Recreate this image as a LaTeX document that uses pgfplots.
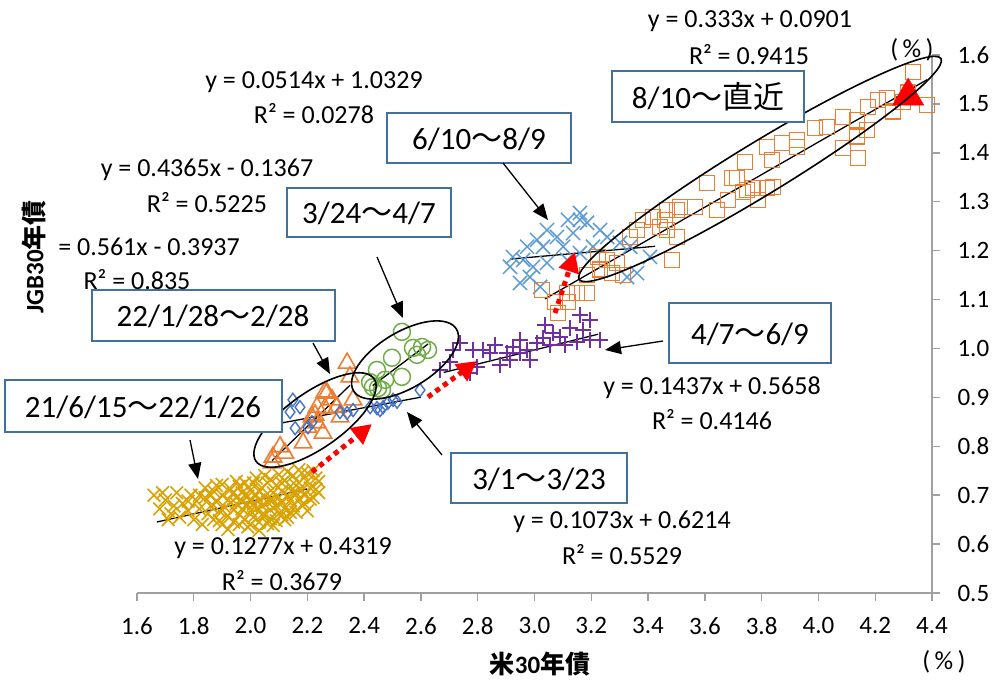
\documentclass[border=0pt]{standalone}
\usepackage{pgfplots}
\pgfplotsset{compat=1.18}
\usepackage{fontspec}
\setmainfont{Carlito}
\newfontfamily\cjk{Noto Sans CJK JP}
\usetikzlibrary{arrows.meta}

\definecolor{cgold}{RGB}{218,162,0}
\definecolor{corange}{RGB}{237,125,49}
\definecolor{cblue}{RGB}{68,114,196}
\definecolor{cgreen}{RGB}{112,173,71}
\definecolor{cpurple}{RGB}{112,48,160}
\definecolor{clblue}{RGB}{91,155,213}
\definecolor{cbox}{RGB}{65,113,156}
\definecolor{caxis}{RGB}{160,160,160}

\newcommand{\wave}{{\cjk ～}}

% 21/6/15 - 22/1/26
\pgfplotstableread{
x y
1.66 0.700
1.68 0.672
1.69 0.705
1.70 0.690
1.71 0.650
1.72 0.662
1.73 0.678
1.74 0.705
1.75 0.655
1.76 0.683
1.78 0.668
1.78 0.688
1.79 0.700
1.80 0.650
1.81 0.688
1.82 0.672
1.82 0.700
1.83 0.640
1.84 0.695
1.84 0.715
1.85 0.662
1.86 0.678
1.86 0.700
1.87 0.708
1.87 0.650
1.88 0.686
1.88 0.720
1.89 0.668
1.89 0.648
1.90 0.700
1.90 0.640
1.90 0.722
1.91 0.675
1.92 0.690
1.92 0.658
1.92 0.630
1.93 0.712
1.93 0.685
1.94 0.670
1.94 0.645
1.94 0.705
1.95 0.695
1.95 0.682
1.95 0.728
1.96 0.660
1.96 0.718
1.96 0.640
1.97 0.688
1.97 0.672
1.97 0.705
1.98 0.650
1.98 0.700
1.98 0.725
1.99 0.680
1.99 0.635
1.99 0.698
2.00 0.692
2.00 0.668
2.00 0.710
2.00 0.640
2.01 0.655
2.01 0.682
2.01 0.725
2.02 0.700
2.02 0.672
2.02 0.735
2.03 0.690
2.03 0.645
2.03 0.628
2.03 0.708
2.04 0.715
2.04 0.678
2.04 0.660
2.05 0.660
2.05 0.698
2.05 0.740
2.06 0.686
2.06 0.725
2.06 0.642
2.07 0.670
2.07 0.652
2.07 0.732
2.07 0.690
2.08 0.705
2.08 0.690
2.08 0.638
2.09 0.678
2.09 0.720
2.09 0.648
2.10 0.662
2.10 0.695
2.10 0.742
2.11 0.708
2.11 0.684
2.11 0.660
2.11 0.725
2.12 0.730
2.12 0.672
2.12 0.650
2.13 0.700
2.13 0.655
2.13 0.748
2.14 0.718
2.14 0.690
2.14 0.665
2.15 0.740
2.15 0.678
2.15 0.705
2.16 0.705
2.16 0.665
2.16 0.720
2.17 0.725
2.17 0.692
2.17 0.752
2.18 0.710
2.18 0.745
2.18 0.680
2.19 0.682
2.19 0.700
2.20 0.728
2.20 0.668
2.20 0.745
2.21 0.715
2.21 0.692
2.22 0.695
2.22 0.750
2.23 0.735
2.23 0.712
2.24 0.705
2.24 0.728
}\tabA

% 22/1/28 - 2/28
\pgfplotstableread{
x y
2.340 0.970
2.350 0.942
2.269 0.909
2.287 0.895
2.234 0.880
2.262 0.878
2.304 0.880
2.216 0.860
2.234 0.848
2.255 0.827
2.202 0.839
2.185 0.807
2.104 0.799
2.121 0.786
2.079 0.778
2.076 0.766
2.227 0.864
2.315 0.860
2.262 0.911
2.361 0.895
}\tabB

% 3/1 - 3/23
\pgfplotstableread{
x y
2.149 0.895
2.174 0.880
2.139 0.870
2.157 0.837
2.202 0.839
2.216 0.849
2.315 0.870
2.340 0.868
2.361 0.874
2.421 0.880
2.445 0.878
2.456 0.874
2.467 0.880
2.484 0.889
2.502 0.895
2.516 0.891
2.597 0.915
}\tabC

% 3/24 - 4/7
\pgfplotstableread{
x y
2.533 1.034
2.498 0.981
2.445 0.956
2.474 0.936
2.449 0.919
2.421 0.931
2.533 0.942
2.572 1.001
2.625 0.997
2.586 0.987
2.604 1.003
2.431 0.921
2.463 0.915
}\tabD

% 4/7 - 6/9
\pgfplotstableread{
x y
3.160 1.069
3.196 1.058
3.125 1.042
3.171 1.038
3.065 1.032
3.090 1.023
3.030 1.021
3.009 1.011
2.974 0.997
2.924 1.003
2.949 0.991
2.903 0.991
2.843 0.991
2.819 0.997
2.984 0.976
2.914 0.976
3.196 1.017
3.231 1.017
3.150 1.013
2.713 0.997
2.702 0.972
2.784 0.997
2.798 0.962
2.773 0.950
2.738 1.011
2.861 1.007
2.879 0.966
3.055 1.007
3.108 1.007
2.667 0.956
2.949 1.017
3.037 1.048
}\tabE

% 6/10 - 8/9
\pgfplotstableread{
x y
3.160 1.277
3.118 1.263
3.185 1.257
3.044 1.242
3.079 1.228
3.136 1.236
3.009 1.222
2.974 1.208
3.030 1.208
3.101 1.208
2.924 1.187
2.960 1.181
2.995 1.167
3.044 1.175
2.984 1.146
2.949 1.134
3.231 1.242
3.256 1.228
3.301 1.216
3.337 1.208
3.407 1.187
3.326 1.146
3.361 1.154
3.160 1.195
3.206 1.208
3.115 1.181
3.020 1.126
2.914 1.167
3.160 1.263
}\tabF

% 8/10 - latest
\pgfplotstableread{
x y
3.027 1.120
3.072 1.095
3.083 1.073
3.118 1.095
3.150 1.113
3.185 1.113
3.115 1.113
3.185 1.150
3.231 1.161
3.273 1.154
3.312 1.150
3.224 1.187
3.256 1.181
3.291 1.175
3.337 1.228
3.361 1.242
3.382 1.263
3.418 1.269
3.460 1.263
3.467 1.283
3.502 1.283
3.513 1.289
3.467 1.242
3.502 1.228
3.484 1.181
3.442 1.248
3.565 1.289
3.608 1.338
3.643 1.283
3.682 1.304
3.696 1.349
3.713 1.349
3.742 1.381
3.735 1.320
3.749 1.324
3.787 1.304
3.770 1.328
3.819 1.412
3.837 1.385
3.819 1.328
3.840 1.330
3.872 1.420
3.925 1.426
3.925 1.412
3.988 1.451
4.030 1.453
4.087 1.473
4.136 1.467
4.087 1.410
4.136 1.433
4.140 1.389
4.171 1.447
4.175 1.494
4.210 1.508
4.242 1.512
4.263 1.484
4.333 1.565
4.383 1.498
4.316 1.523
4.298 1.504
}\tabG

\begin{document}
\begin{tikzpicture}
\path[use as bounding box] (-137pt,-88pt) rectangle (859pt,593pt);
\begin{axis}[
  at={(0pt,0pt)}, anchor=south west,
  scale only axis, width=795pt, height=538pt,
  xmin=1.6, xmax=4.4, ymin=0.5, ymax=1.6,
  axis x line*=bottom, axis y line*=right,
  axis line style={caxis, line width=1.6pt},
  xtick distance=0.2, ytick distance=0.1,
  tick align=outside, major tick length=8pt,
  tick style={caxis, line width=1.4pt},
  /pgf/number format/assume math mode=true,
  ticklabel style={font=\fontsize{25}{28}\selectfont},
  xticklabel style={/pgf/number format/fixed, /pgf/number format/fixed zerofill, /pgf/number format/precision=1, yshift=-13pt},
  yticklabel style={/pgf/number format/fixed, /pgf/number format/fixed zerofill, /pgf/number format/precision=1, xshift=14pt},
  clip=false,
]
\addplot[only marks, color=cgold, mark=x, mark size=9pt, mark options={line width=1.6pt}] table {\tabA};
\addplot[only marks, color=corange, mark=triangle, mark size=10pt, mark options={line width=1.6pt}] table {\tabB};
\addplot[only marks, color=cblue, mark=diamond, mark size=6.5pt, mark options={line width=1.4pt}] table {\tabC};
\addplot[only marks, color=cgreen, mark=o, mark size=8.5pt, mark options={line width=1.5pt}] table {\tabD};
\addplot[only marks, color=cpurple, mark=+, mark size=8pt, mark options={line width=1.6pt}] table {\tabE};
\addplot[only marks, color=clblue, mark=x, mark size=10pt, mark options={line width=1.5pt}] table {\tabF};
\addplot[only marks, color=corange, mark=square, mark size=7.5pt, mark options={line width=1.5pt}] table {\tabG};
\addplot[only marks, mark=triangle*, mark size=18pt, mark options={draw=red, fill=red}] coordinates {(4.316,1.516)};
% linear fits
\addplot[black, line width=1.3pt] coordinates {(1.67,0.6452) (2.20,0.7128)};
\addplot[black, line width=1.3pt] coordinates {(2.076,0.7709) (2.35,0.9247)};
\addplot[black, line width=1.3pt] coordinates {(2.10,0.8467) (2.60,0.9004)};
\addplot[black, line width=1.3pt] coordinates {(2.43,0.9240) (2.625,1.0091)};
\addplot[black, line width=1.3pt] coordinates {(2.68,0.9509) (3.224,1.0291)};
\addplot[black, line width=1.3pt] coordinates {(2.914,1.1827) (3.425,1.2089)};
\addplot[black, line width=1.3pt] coordinates {(3.037,1.1014) (4.383,1.5496)};
\end{axis}

\begin{scope}[x=1pt, y=-1pt, shift={(-137pt,593pt)}]
  % ellipses around regimes
  \draw[black, line width=1.6pt, rotate around={35:(315,420)}] (315,420) ellipse [x radius=72, y radius=28];
  \draw[black, line width=1.6pt, rotate around={31:(405,360)}] (405,360) ellipse [x radius=60, y radius=28];
  \draw[black, line width=1.6pt, rotate around={31.4:(760,169)}] (760,169) ellipse [x radius=212, y radius=26];

  % red transition arrows
  \begin{scope}[red, line width=5pt, dash pattern=on 5pt off 4.5pt, -{Triangle[length=20pt,width=20pt]}]
    \draw (312,472) -- (372,424);
    \draw (428,397) -- (477,361);
    \draw (555,313) -- (575,252);
  \end{scope}

  % period boxes
  \begin{scope}[cbox, line width=2.6pt]
    \draw[fill=white] (612,71) rectangle (804,122);
    \draw[fill=white] (387,113) rectangle (571,163);
    \draw[fill=white] (287,188) rectangle (451,237);
    \draw[fill=white] (92,290) rectangle (335,341);
    \draw[fill=white] (5,380) rectangle (282,432);
    \draw[fill=white] (669,303) rectangle (831,363);
    \draw[fill=white] (451,453) rectangle (627,503);
  \end{scope}
  \begin{scope}[font=\fontsize{31}{34}\selectfont]
    \node at (708,97) {8/10\wave{\cjk 直近}};
    \node at (479,139) {6/10\wave 8/9};
    \node at (369,213) {3/24\wave 4/7};
    \node at (213,316) {22/1/28\wave 2/28};
    \node at (143,407) {21/6/15\wave 22/1/26};
    \node at (750,334) {4/7\wave 6/9};
    \node at (539,479) {3/1\wave 3/23};
  \end{scope}

  % pointer arrows
  \begin{scope}[black, line width=1.3pt, -{Triangle[length=16pt,width=13pt]}]
    \draw (190,440) -- (198,479);
    \draw (313,343) -- (330,374);
    \draw (377,257) -- (403,318);
    \draw (503,163) -- (548,220);
    \draw (663,341) -- (605,350);
    \draw (442,455) -- (407,412);
  \end{scope}

  % regression labels
  \begin{scope}[font=\fontsize{26}{28}\selectfont, inner sep=0pt]
    \node at (750,21) {y = 0.333x + 0.0901};
    \node at (749,55) {R² = 0.9415};
    \node at (314,82) {y = 0.0514x + 1.0329};
    \node at (314,114) {R² = 0.0278};
    \node at (207,170) {y = 0.4365x - 0.1367};
    \node at (207,203) {R² = 0.5225};
    \node[anchor=east] at (240,247) {= 0.561x - 0.3937};
    \node at (137,280) {R² = 0.835};
    \node at (712,388) {y = 0.1437x + 0.5658};
    \node at (712,420) {R² = 0.4146};
    \node at (622,522) {y = 0.1073x + 0.6214};
    \node at (622,555) {R² = 0.5529};
    \node at (283,548) {y = 0.1277x + 0.4319};
    \node at (282,581) {R² = 0.3679};
    \node at (912,50) {(\,\%\,)};
    \node at (944,662) {(\,\%\,)};
  \end{scope}

  % axis titles
  \node[font=\fontsize{25}{28}\selectfont\bfseries] at (540,664) {{\cjk 米}30{\cjk 年債}};
  \node[rotate=90, font=\fontsize{25}{28}\selectfont\bfseries] at (34,257) {JGB30{\cjk 年債}};
\end{scope}
\end{tikzpicture}
\end{document}
